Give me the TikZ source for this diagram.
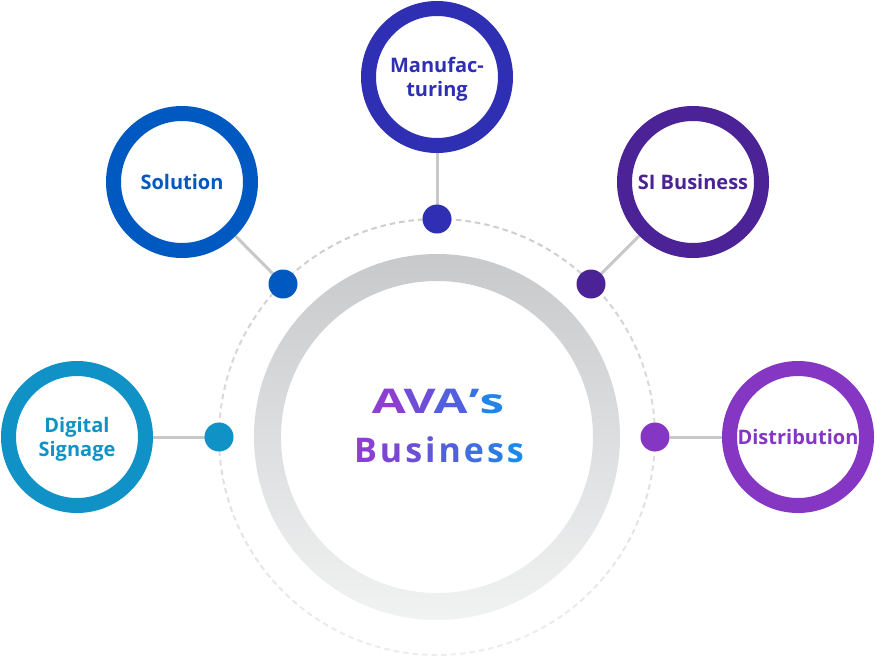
\documentclass[tikz,border=0pt]{standalone}
\usepackage{fontspec}
\setmainfont{Open Sans}
\newcommand\boldnoto{\bfseries}
\usetikzlibrary{backgrounds}
\definecolor{cds}{HTML}{1092C6}
\definecolor{csol}{HTML}{0059C1}
\definecolor{cman}{HTML}{2F2FB3}
\definecolor{csi}{HTML}{4B2397}
\definecolor{cdis}{HTML}{8537C4}
\definecolor{connc}{HTML}{C8C8C8}
\definecolor{ringtop}{HTML}{C8C9CB}
\definecolor{ringbot}{HTML}{F1F2F2}
\definecolor{dtop}{HTML}{CDCDCD}
\definecolor{dbot}{HTML}{EDEDED}
\newcommand\gl[2]{\textcolor[HTML]{#1}{#2}}
\begin{document}
\begin{tikzpicture}[x=1pt,y=-1pt,
  ring/.style={circle, draw, line width=15pt, minimum size=137pt, inner sep=0pt, outer sep=0pt,
    font=\boldnoto\fontsize{20}{23.5}\selectfont, align=center},
  tworow/.style={text depth=0pt},
  dotn/.style={circle, minimum size=29pt, inner sep=0pt, outer sep=0pt},
  conn/.style={draw=connc, line width=3pt}]
\useasboundingbox (0,0) rectangle (875,657);
% dashed orbit
\foreach \a in {0,10,...,350}{
  \pgfmathsetmacro\t{50*(1-sin(\a+5))}
  \draw[color=dtop!\t!dbot, line width=2pt, dash pattern=on 5.5pt off 4.01pt]
    (437,437) ++(\a:218) arc[start angle=\a, end angle=\a+10, radius=218];
}
% gray ring
\shade[top color=ringtop, bottom color=ringbot, even odd rule]
  (437,437) circle[radius=183] (437,437) circle[radius=156];
% outer circles
\node[ring, tworow, draw=cds, text=cds] (ds) at (77,437) {Digital\\Signage};
\node[ring, draw=csol, text=csol] (sol) at (182,182) {Solution};
\node[ring, tworow, draw=cman, text=cman] (man) at (437,77) {Manufac-\\turing};
\node[ring, draw=csi, text=csi] (si) at (693,182) {SI Business};
\node[ring, draw=cdis, text=cdis] (dis) at (798,437) {Distribution};
% dots
\node[dotn, fill=cds] (dds) at (219,437) {};
\node[dotn, fill=csol] (dsol) at (283,284) {};
\node[dotn, fill=cman] (dman) at (437,219) {};
\node[dotn, fill=csi] (dsi) at (591,284) {};
\node[dotn, fill=cdis] (ddis) at (655,437) {};
% connectors
\begin{scope}[on background layer]
\draw[conn] (ds) -- (dds);
\draw[conn] (sol) -- (dsol);
\draw[conn] (man) -- (dman);
\draw[conn] (si) -- (dsi);
\draw[conn] (dis) -- (ddis);
\end{scope}
% title
\node[anchor=base, inner sep=0pt, font=\boldnoto\fontsize{34}{40}\selectfont] (t1) at (438,413)
  {\scalebox{1.45}[1]{\gl{8C3FD1}{A}\kern-1.5pt\gl{6F4DD6}{V}\kern-1.5pt\gl{5160DC}{A}\kern1pt\gl{3A72E1}{’}\gl{2184E6}{s}}};
\node[anchor=base, inner sep=0pt, font=\boldnoto\fontsize{34}{40}\selectfont] (t2) at (439,462)
  {\gl{8A40D2}{B}\kern3pt\gl{7B46D4}{u}\kern3pt\gl{6C4FD7}{s}\kern3pt\gl{6057D9}{i}\kern3pt\gl{5161DC}{n}\kern3pt\gl{3F6FE0}{e}\kern3pt\gl{2E7BE3}{s}\kern3pt\gl{1C8AE8}{s}};
\end{tikzpicture}
\end{document}
